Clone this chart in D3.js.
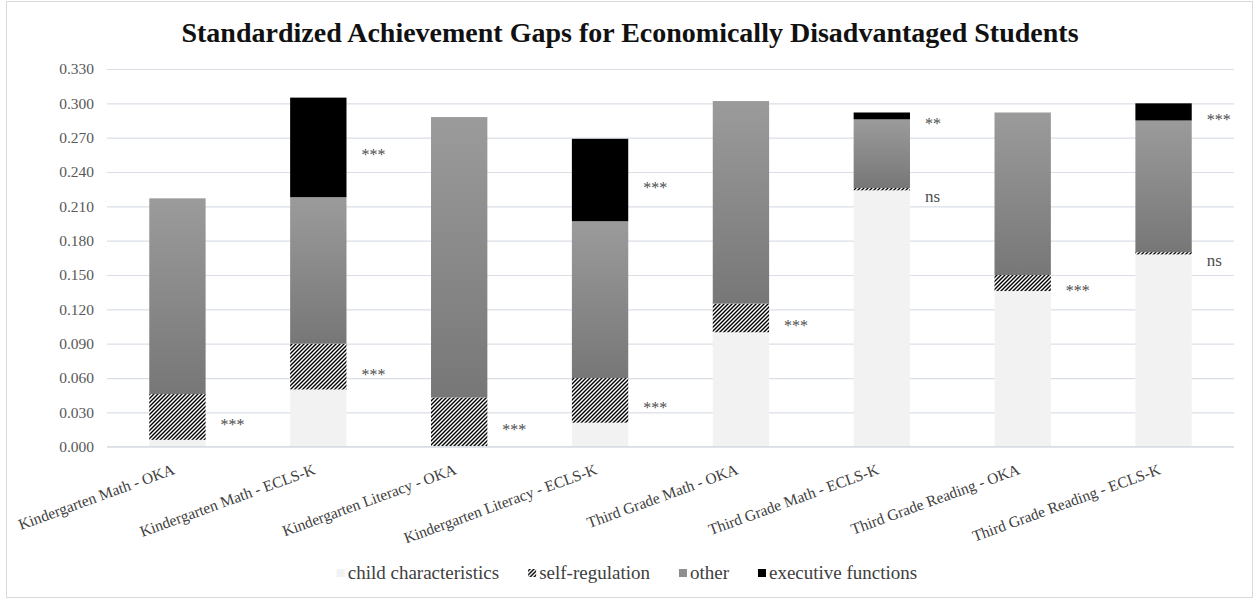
<!DOCTYPE html>
<html>
<head>
<meta charset="utf-8">
<script src="https://cdn.jsdelivr.net/npm/d3@7"></script>
<style>
  html, body { margin: 0; padding: 0; background: #fff; }
  svg { display: block; }
  svg text { font-family: "Liberation Serif", "Times New Roman", serif; }
</style>
</head>
<body>
<svg id="chart" width="1259" height="602"></svg>
<script>
// Categories (assessment / dataset)
const categories = [
  "Kindergarten Math - OKA",
  "Kindergarten Math - ECLS-K",
  "Kindergarten Literacy - OKA",
  "Kindergarten Literacy - ECLS-K",
  "Third Grade Math - OKA",
  "Third Grade Math - ECLS-K",
  "Third Grade Reading - OKA",
  "Third Grade Reading - ECLS-K"
];

// Components of the standardized gap (stacked bottom to top)
const childCharacteristics = [0.006, 0.050, 0.000, 0.021, 0.100, 0.224, 0.136, 0.168];
const selfRegulation       = [0.040, 0.040, 0.043, 0.039, 0.025, 0.002, 0.014, 0.002];
const otherComponent       = [0.171, 0.128, 0.245, 0.137, 0.177, 0.060, 0.142, 0.115];
const executiveFunctions   = [0.000, 0.087, 0.000, 0.072, 0.000, 0.006, 0.000, 0.015];

// Significance markers
const selfRegulationSig     = ["***", "***", "***", "***", "***", "ns", "***", "ns"];
const executiveFunctionsSig = ["", "***", "", "***", "", "**", "", "***"];

// Axis ticks
const yTickValues = [0.000, 0.030, 0.060, 0.090, 0.120, 0.150, 0.180, 0.210, 0.240, 0.270, 0.300, 0.330];

const seriesNames = ["child characteristics", "self-regulation", "other", "executive functions"];

const rows = categories.map((c, i) => ({
  category: c,
  "child characteristics": childCharacteristics[i],
  "self-regulation": selfRegulation[i],
  "other": otherComponent[i],
  "executive functions": executiveFunctions[i]
}));

const SERIF = "'Liberation Serif', 'Times New Roman', serif";
const svg = d3.select("#chart");
const plot = { left: 107, right: 1234, top: 69, bottom: 446.7 };

// Chart frame
svg.append("rect")
  .attr("x", 6.5).attr("y", 1.5)
  .attr("width", 1246).attr("height", 596)
  .attr("fill", "#fff").attr("stroke", "#d9d9d9").attr("stroke-width", 1);

// Fills
const defs = svg.append("defs");
const hatch = defs.append("pattern")
  .attr("id", "hatch").attr("patternUnits", "userSpaceOnUse")
  .attr("width", 4).attr("height", 4);
hatch.append("rect").attr("width", 4).attr("height", 4).attr("fill", "#fff");
hatch.append("path")
  .attr("d", "M-1,1 l2,-2 M0,4 l4,-4 M3,5 l2,-2")
  .attr("stroke", "#000").attr("stroke-width", 1.4);

const grad = defs.append("linearGradient")
  .attr("id", "otherGrad").attr("x1", 0).attr("y1", 0).attr("x2", 0).attr("y2", 1);
grad.append("stop").attr("offset", "0%").attr("stop-color", "#9b9b9b");
grad.append("stop").attr("offset", "100%").attr("stop-color", "#777777");

const fills = {
  "child characteristics": "#f2f2f2",
  "self-regulation": "url(#hatch)",
  "other": "url(#otherGrad)",
  "executive functions": "#000000"
};

// Scales
const x = d3.scaleBand()
  .domain(categories)
  .range([plot.left, plot.right])
  .paddingInner(0.6)
  .paddingOuter(0.3);

const y = d3.scaleLinear()
  .domain([0, 0.33])
  .range([plot.bottom, plot.top]);

// Title
svg.append("text")
  .attr("x", 630).attr("y", 42)
  .attr("text-anchor", "middle")
  .style("font-family", SERIF)
  .attr("font-size", 28).attr("font-weight", "bold")
  .attr("fill", "#111")
  .text("Standardized Achievement Gaps for Economically Disadvantaged Students");

// Gridlines and value axis
const yAxis = d3.axisLeft(y)
  .tickValues(yTickValues)
  .tickFormat(d3.format(".3f"))
  .tickSize(-(plot.right - plot.left))
  .tickPadding(13);

const gy = svg.append("g")
  .attr("transform", `translate(${plot.left},0)`)
  .call(yAxis);
gy.select(".domain").remove();
gy.selectAll(".tick line").attr("stroke", "#dadfe7").attr("stroke-width", 1.2);
gy.selectAll(".tick text")
  .style("font-family", SERIF)
  .attr("font-size", 15.5)
  .attr("fill", "#595959");

// Stacked bars
const stacked = d3.stack().keys(seriesNames)(rows);

const layers = svg.append("g").selectAll("g")
  .data(stacked)
  .join("g")
  .attr("fill", d => fills[d.key]);

layers.selectAll("rect")
  .data(d => d.map(v => ({ v, key: d.key })))
  .join("rect")
  .attr("x", d => x(d.v.data.category))
  .attr("y", d => y(d.v[1]))
  .attr("width", x.bandwidth())
  .attr("height", d => Math.max(0, y(d.v[0]) - y(d.v[1])));

// Significance markers beside the self-regulation and executive-function segments
const sigGroup = svg.append("g").attr("fill", "#4d4d4d");

function addMarkers(key, labels) {
  const layer = stacked.find(s => s.key === key);
  layer.forEach((v, i) => {
    if (!labels[i]) return;
    const mid = (v[0] + v[1]) / 2;
    sigGroup.append("text")
      .attr("x", x(categories[i]) + x.bandwidth() + 15)
      .attr("y", y(mid) + 13)
      .style("font-family", SERIF)
      .attr("font-size", labels[i] === "ns" ? 17 : 16)
      .text(labels[i]);
  });
}
addMarkers("self-regulation", selfRegulationSig);
addMarkers("executive functions", executiveFunctionsSig);

// Category axis with rotated labels
const xAxis = d3.axisBottom(x).tickSize(0).tickPadding(0);
const gx = svg.append("g")
  .attr("transform", `translate(0,${plot.bottom})`)
  .call(xAxis);
gx.select(".domain").attr("stroke", "#dadfe7").attr("stroke-width", 1.2)
  .attr("d", `M${plot.left},0H${plot.right}`);
gx.selectAll(".tick text")
  .style("font-family", SERIF)
  .attr("font-size", 15.5)
  .attr("fill", "#404040")
  .attr("text-anchor", "end")
  .attr("dy", 0)
  .attr("transform", "translate(-2,27) rotate(-20)");

// Legend
const legend = svg.append("g")
  .attr("font-size", 19)
  .attr("fill", "#404040");

const legendFills = {
  "child characteristics": "#f2f2f2",
  "self-regulation": "url(#hatch)",
  "other": "#8e8e8e",
  "executive functions": "#000000"
};

let lx = 0;
seriesNames.forEach(name => {
  const g = legend.append("g").attr("transform", `translate(${lx},0)`);
  g.append("rect").attr("x", 0).attr("y", -10).attr("width", 8).attr("height", 8)
    .attr("fill", legendFills[name]);
  const t = g.append("text").attr("x", 11).attr("y", 0)
    .style("font-family", SERIF)
    .text(name);
  lx += 11 + t.node().getComputedTextLength() + 29;
});
const legendWidth = lx - 29;
legend.attr("transform", `translate(${627 - legendWidth / 2},579)`);
</script>
</body>
</html>
